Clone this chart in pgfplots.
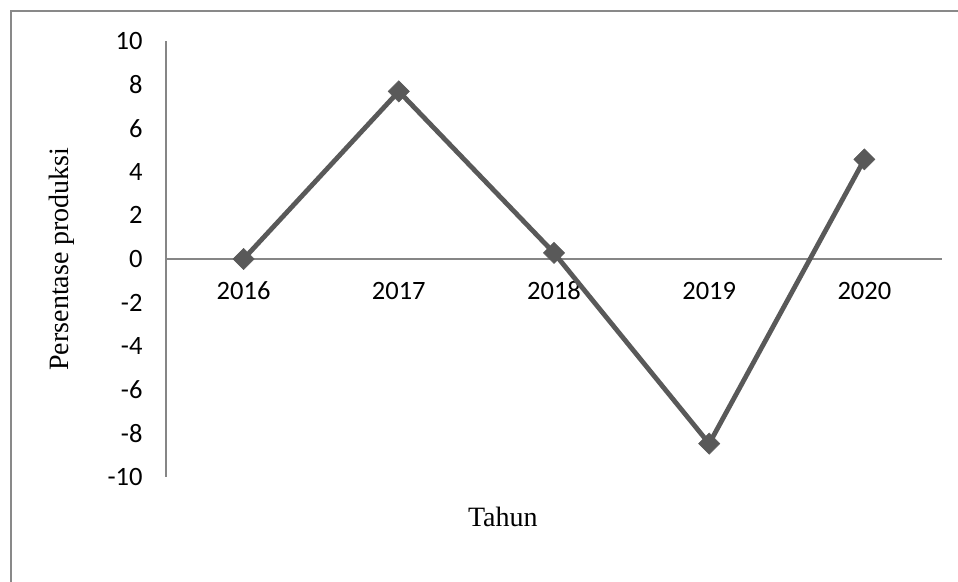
\documentclass[border=0pt]{standalone}
\usepackage{fontspec}
\setmainfont{Liberation Serif}
\newfontfamily\calibri{Carlito}
\usepackage{pgfplots}
\pgfplotsset{compat=1.18}
\definecolor{linegray}{HTML}{595959}
\definecolor{axgray}{HTML}{868686}
\definecolor{framegray}{HTML}{898989}
\begin{document}
\begin{tikzpicture}
\useasboundingbox (0,0) rectangle (958bp,582bp);
\draw[framegray, line width=2bp] (11bp,0) -- (11bp,571bp) -- (958bp,571bp);
\begin{axis}[
  at={(166bp,105bp)}, anchor=south west,
  scale only axis, width=776bp, height=436bp,
  xmin=-0.5, xmax=4.5, ymin=-10, ymax=10,
  axis x line*=middle, axis y line*=left,
  axis line style={axgray, line width=1.4bp, -},
  xtick={0,1,2,3,4},
  xticklabels={2016,2017,2018,2019,2020},
  ytick={-10,-8,...,10},
  major tick length=0pt,
  /pgf/number format/assume math mode=true,
  tick label style={font=\calibri\fontsize{26.5bp}{31bp}\selectfont, text=black},
  xticklabel style={anchor=base, yshift=-41bp},
  yticklabel style={xshift=-20bp},
  xlabel={Tahun},
  ylabel={Persentase produksi},
  label style={font=\fontsize{28bp}{33bp}\selectfont},
  xlabel style={at={(axis description cs:0.434,-0.092)}, anchor=center},
  ylabel style={at={(axis description cs:-0.134,0.5)}, anchor=center, rotate=0},
  clip=false,
]
\addplot[color=linegray, line width=4.8bp, mark=square*,
  mark size=7.5bp, mark options={rotate=45, line width=0.5bp, fill=linegray}]
  coordinates {(0,0) (1,7.69) (2,0.28) (3,-8.47) (4,4.57)};
\end{axis}
\end{tikzpicture}
\end{document}
